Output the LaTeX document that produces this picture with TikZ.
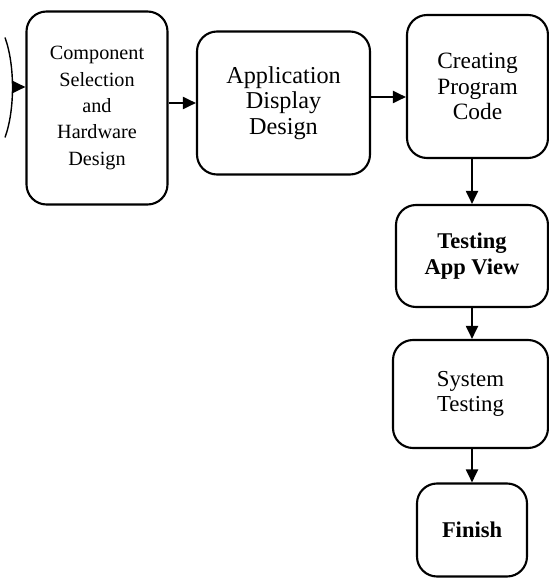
\documentclass[tikz,border=0pt]{standalone}
\usepackage{fontspec}
\setmainfont{Liberation Serif}
\usetikzlibrary{arrows.meta}
\tikzset{
	stage/.style n args={2}{%
		draw, line width=1.2pt, rounded corners=4mm,
		minimum width=#1, minimum height=#2,
		align=center, inner sep=1pt
	},
	flow/.style={-{Triangle[length=2.6mm,width=2.4mm]}, line width=1.1pt},
}

\begin{document}
\begin{tikzpicture}
		\useasboundingbox (0,0) rectangle (10.98,-11.58);
		
		% first row
		\node[stage={2.82cm}{3.86cm}, font=\fontsize{11.5}{15}\selectfont] (component) at (1.94,-2.16) {Component\\Selection\\and\\Hardware\\Design};
		\node[stage={3.46cm}{2.86cm}, font=\fontsize{13.8}{14.5}\selectfont] (display) at (5.67,-2.06) {Application\\Display\\Design};
		\node[stage={2.82cm}{2.86cm}, font=\fontsize{13.3}{14.5}\selectfont] (code) at (9.55,-1.73) {Creating\\Program\\Code};
		
		% column on the right
		\node[stage={3.04cm}{2.04cm}, font=\fontsize{12.8}{14.5}\selectfont\bfseries] (appview) at (9.44,-5.12) {Testing\\App View};
		\node[stage={3.1cm}{2.16cm}, font=\fontsize{13}{14.5}\selectfont] (systest) at (9.41,-7.88) {System\\Testing};
		\node[stage={2.2cm}{1.86cm}, font=\fontsize{12.8}{14.5}\selectfont\bfseries] (finish) at (9.44,-10.6) {Finish};
		
		% cut off edge of the previous step
		\draw[line width=0.8pt] (0.1,-0.75) .. controls (0.3,-1.3) and (0.3,-2.2) .. (0.1,-2.75);
		\coordinate (prev) at (0.25,-1.74);
		
		%arrows between boxes
		\draw[flow] (prev) -- (component.west |- prev);
		\draw[flow] (component.east |- display.west) -- (display.west);
		\draw[flow] (display.east |- 0,-1.94) -- (code.west |- 0,-1.94);
		\draw[flow] (code.south -| appview) -- (appview.north);
		\draw[flow] (appview.south) -- (systest.north -| appview);
		\draw[flow] (systest.south -| finish) -- (finish.north);
		
\end{tikzpicture}
\end{document}
